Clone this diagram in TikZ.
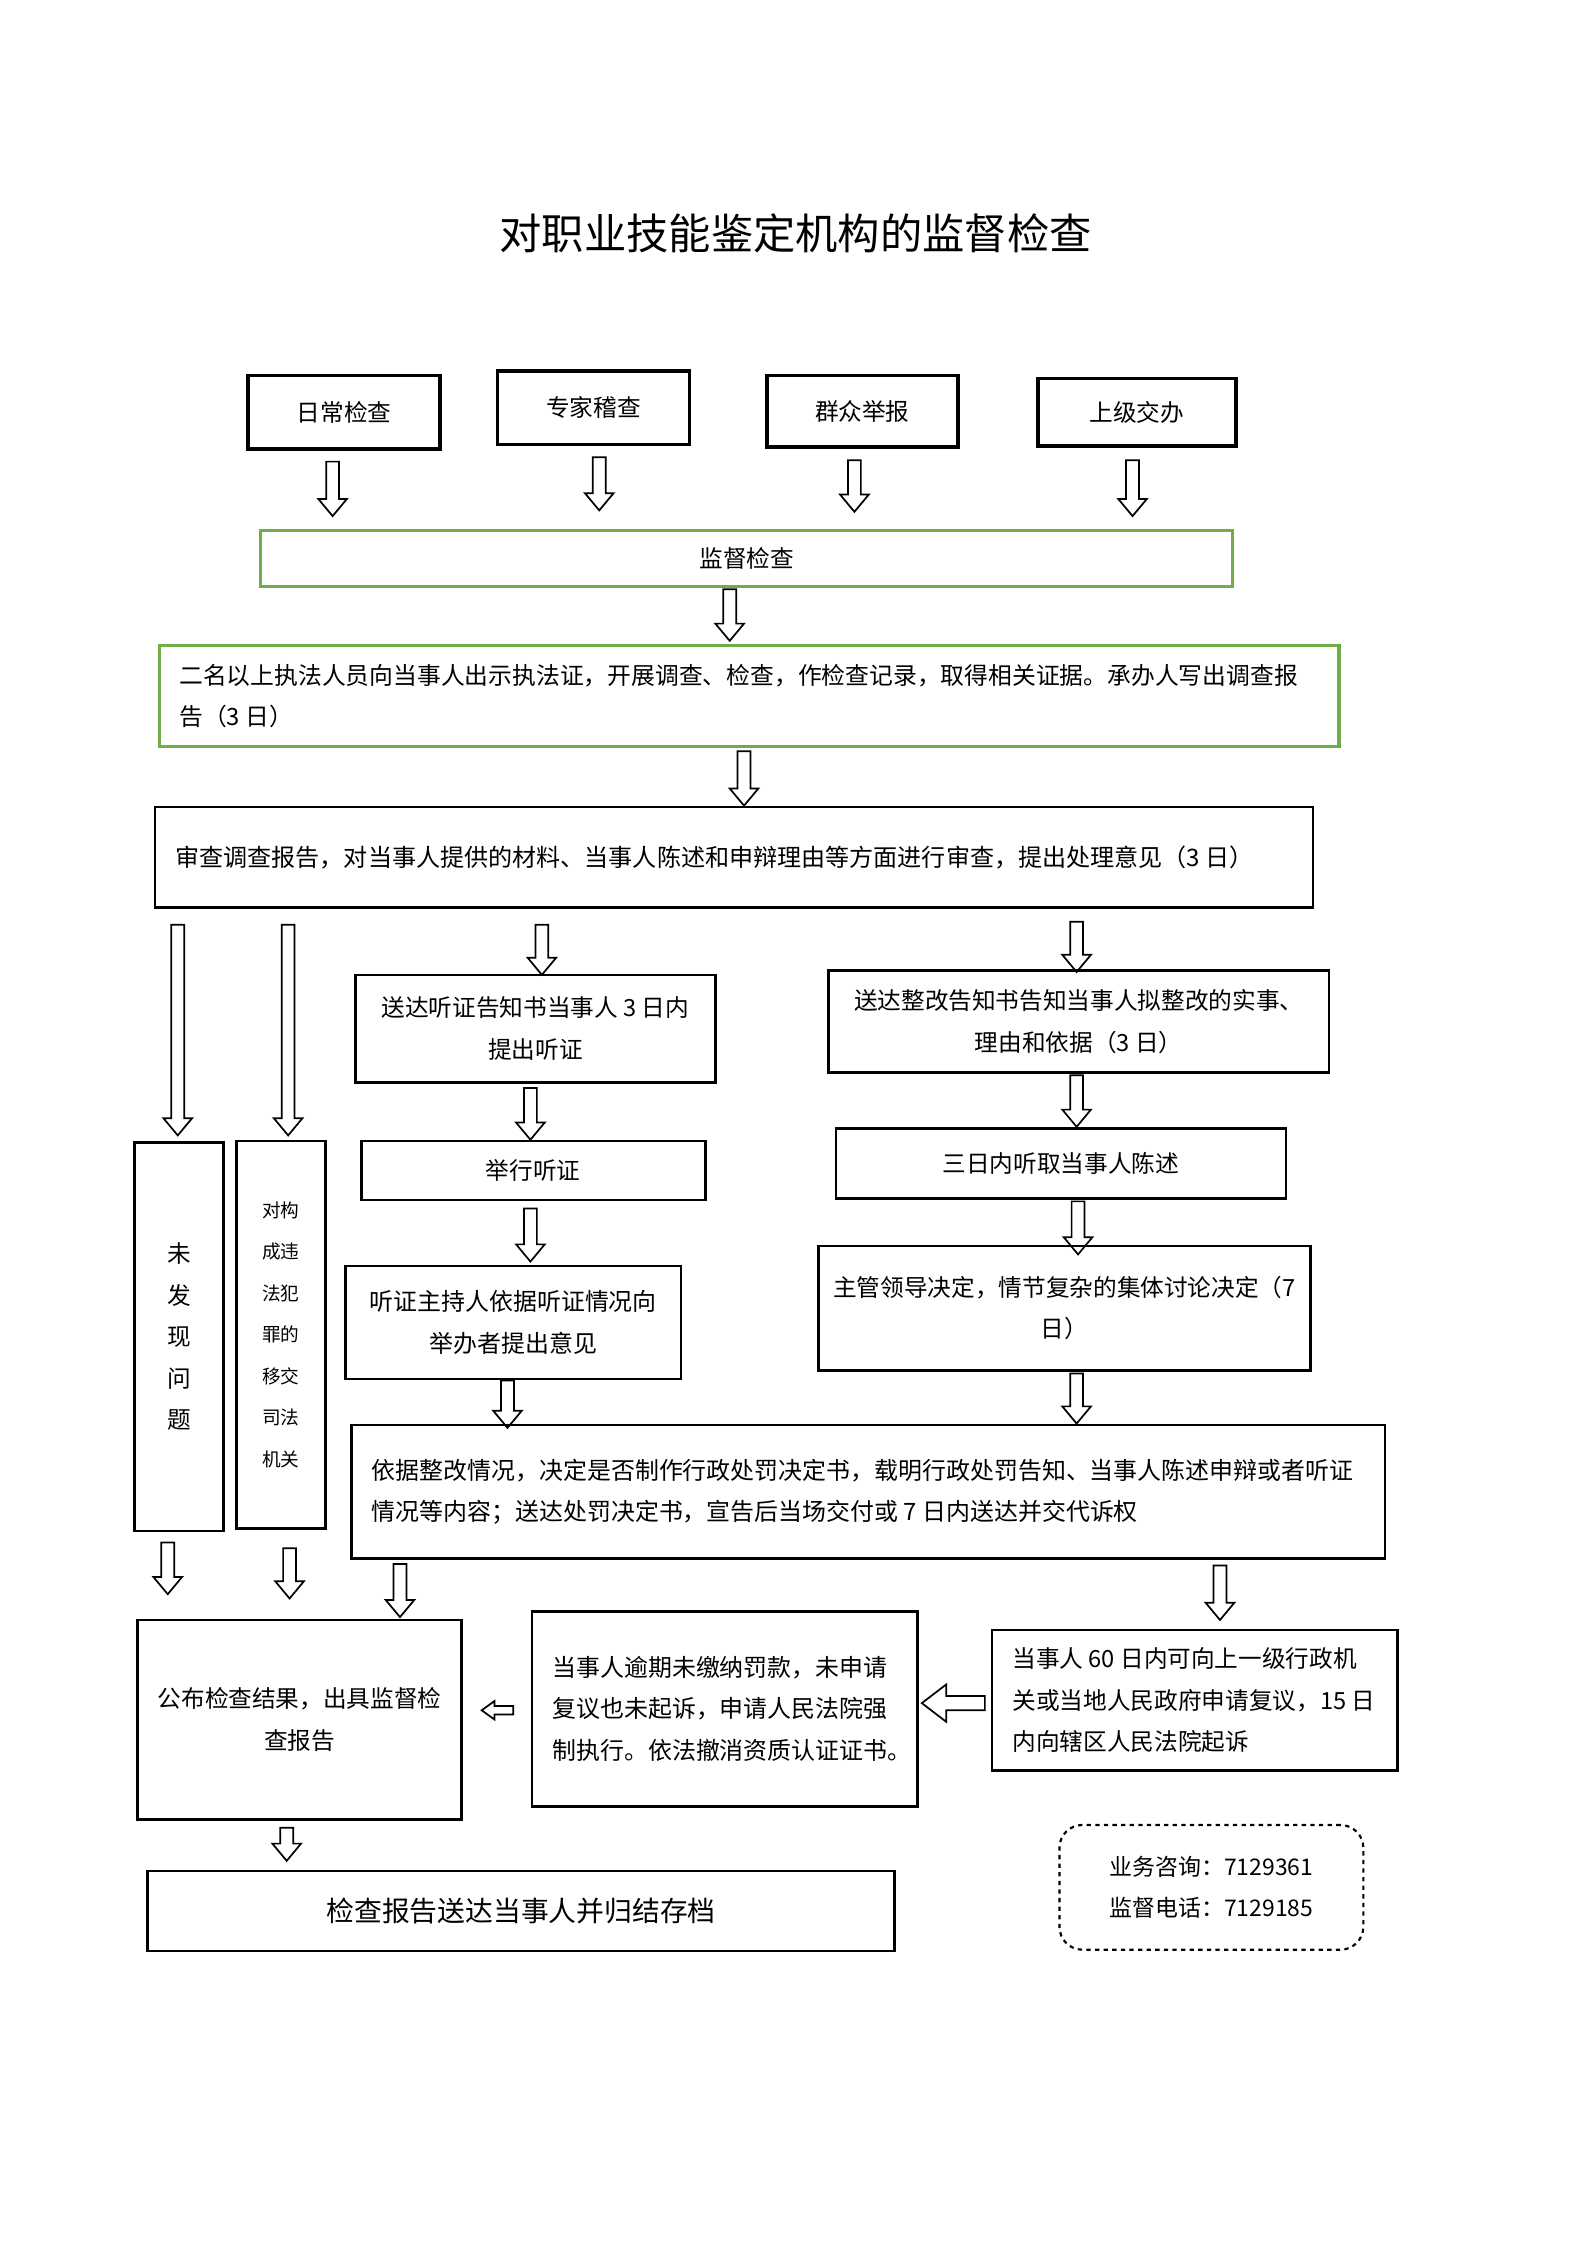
\documentclass[tikz,border=0pt]{standalone}
\usepackage{fontspec}
\setmainfont{Noto Sans CJK SC}
\definecolor{grn}{RGB}{112,173,71}
\tikzset{
 box/.style={draw=black, line width=1.8pt, inner sep=0pt, align=center},
 topbox/.style={box, line width=2.6pt},
 gbox/.style={box, draw=grn, line width=2.2pt},
 blk/.style={draw=black, line width=1.2pt, fill=white, line join=miter},
 fs/.style={font=\fontsize{#1}{29}\selectfont},
 ltxt/.style={inner sep=0pt, align=left, anchor=west},
}
\newcommand{\dar}[3]{\draw[blk] ({#1-4.5},#2) -- ({#1+4.5},#2) -- ({#1+4.5},{#3-12}) -- ({#1+10},{#3-12}) -- (#1,#3) -- ({#1-10},{#3-12}) -- ({#1-4.5},{#3-12}) -- cycle;}
\newcommand{\lar}[6]{\draw[blk] (#2,{#3-#4}) -- ({#1+#6},{#3-#4}) -- ({#1+#6},{#3-#5}) -- (#1,#3) -- ({#1+#6},{#3+#5}) -- ({#1+#6},{#3+#4}) -- (#2,{#3+#4}) -- cycle;}
\begin{document}
\begin{tikzpicture}[x=1pt,y=-1pt]
\useasboundingbox[fill=white] (0,0) rectangle (1107,1566);

\node[font=\fontsize{29.5}{34}\selectfont] (title) at (555,163) {对职业技能鉴定机构的监督检查};

% top sources
\node[topbox, minimum width=134pt, minimum height=51pt, fs=16.5] (b1) at (240,287.5) {日常检查};
\node[topbox, minimum width=134pt, minimum height=51pt, fs=16.5] (b2) at (414,284.5) {专家稽查};
\node[topbox, minimum width=133pt, minimum height=50pt, fs=16.5] (b3) at (601.5,287) {群众举报};
\node[topbox, minimum width=138pt, minimum height=47pt, fs=16.5] (b4) at (793,287.5) {上级交办};
\dar{232}{322}{360}
\dar{418}{319}{356}
\dar{596}{321}{357}
\dar{790}{321}{360}

\node[gbox, minimum width=678pt, minimum height=39pt, fs=16.5] (g1) at (521,389.5) {监督检查};
\dar{509}{411}{447}
\node[gbox, minimum width=823pt, minimum height=71pt] (g2) at (522.5,485.5) {};
\node[ltxt, fs=16.6] (g2t) at ([xshift=15pt]g2.west)
 {二名以上执法人员向当事人出示执法证，开展调查、检查，作检查记录，取得相关证据。承办人写出调查报\\告（3~日）};
\dar{519}{524}{562}
\node[box, minimum width=808pt, minimum height=70pt] (r1) at (512,598) {};
\node[ltxt, fs=16.8] (r1t) at ([xshift=15pt]r1.west)
 {审查调查报告，对当事人提供的材料、当事人陈述和申辩理由等方面进行审查，提出处理意见（3~日）};

% branches
\dar{124}{645}{792}
\dar{201}{645}{792}
\dar{378}{645}{680}
\dar{751}{643}{678}

\node[box, minimum width=62pt, minimum height=271pt, fs=16.5] (v1) at (125,932.5) {未\\发\\现\\问\\题};
\node[box, minimum width=62pt, minimum height=270pt, fs=13] (v2) at (196,931) {对构\\成违\\法犯\\罪的\\移交\\司法\\机关};

\node[box, minimum width=251pt, minimum height=75pt, fs=16.5] (h1) at (373.5,717.5) {送达听证告知书当事人~3~日内\\提出听证};
\dar{370}{759}{795}
\node[box, minimum width=240pt, minimum height=41pt, fs=16.5] (h2) at (372,816.5) {举行听证};
\dar{370}{843}{880}
\node[box, minimum width=234pt, minimum height=79pt, fs=16.7] (h3) at (358,922.5) {听证主持人依据听证情况向\\举办者提出意见};
\dar{354}{963}{996}

\node[box, minimum width=349pt, minimum height=71pt, fs=16.5] (z1) at (752.5,712.5) {送达整改告知书告知当事人拟整改的实事、\\理由和依据（3~日）};
\dar{751}{750}{786}
\node[box, minimum width=314pt, minimum height=49pt, fs=16.5] (z2) at (740,811.5) {三日内听取当事人陈述};
\dar{752}{838}{875}
\node[box, minimum width=343pt, minimum height=87pt, fs=16.5] (z3) at (742.5,912.5) {主管领导决定，情节复杂的集体讨论决定（7\\日）};
\dar{751}{958}{993}

\node[box, minimum width=721pt, minimum height=93pt] (d1) at (605.5,1040.5) {};
\node[ltxt, fs=16.7] (d1t) at ([xshift=15pt]d1.west)
 {依据整改情况，决定是否制作行政处罚决定书，载明行政处罚告知、当事人陈述申辩或者听证\\情况等内容；送达处罚决定书，宣告后当场交付或~7~日内送达并交代诉权};

\dar{117}{1076}{1112}
\dar{202}{1080}{1115}
\dar{279}{1091}{1128}
\dar{851}{1092}{1130}

\node[box, minimum width=226pt, minimum height=139pt, fs=16.5] (p1) at (209,1199.5) {公布检查结果，出具监督检\\查报告};
\node[box, minimum width=269pt, minimum height=136pt] (p2) at (505.5,1192) {};
\node[ltxt, fs=16.7] (p2t) at ([xshift=15pt]p2.west)
 {当事人逾期未缴纳罚款，未申请\\复议也未起诉，申请人民法院强\\制执行。依法撤消资质认证证书。};
\node[box, minimum width=283pt, minimum height=98pt] (p3) at (833.5,1186) {};
\node[ltxt, fs=16.5] (p3t) at ([xshift=15pt]p3.west)
 {当事人~60~日内可向上一级行政机\\关或当地人民政府申请复议，15~日\\内向辖区人民法院起诉};
\lar{643}{687}{1188}{5}{13}{17}
\lar{336}{358}{1193}{3}{6.5}{9}

\dar{200}{1275}{1298}
\node[box, minimum width=521pt, minimum height=56pt, fs=19.4] (f1) at (363.5,1333) {检查报告送达当事人并归结存档};

\node[draw=black, dashed, line width=1.5pt, rounded corners=16pt, minimum width=212pt, minimum height=87pt, align=center, fs=16] (ct) at (845,1316.5) {业务咨询：7129361\\监督电话：7129185};
\end{tikzpicture}
\end{document}
